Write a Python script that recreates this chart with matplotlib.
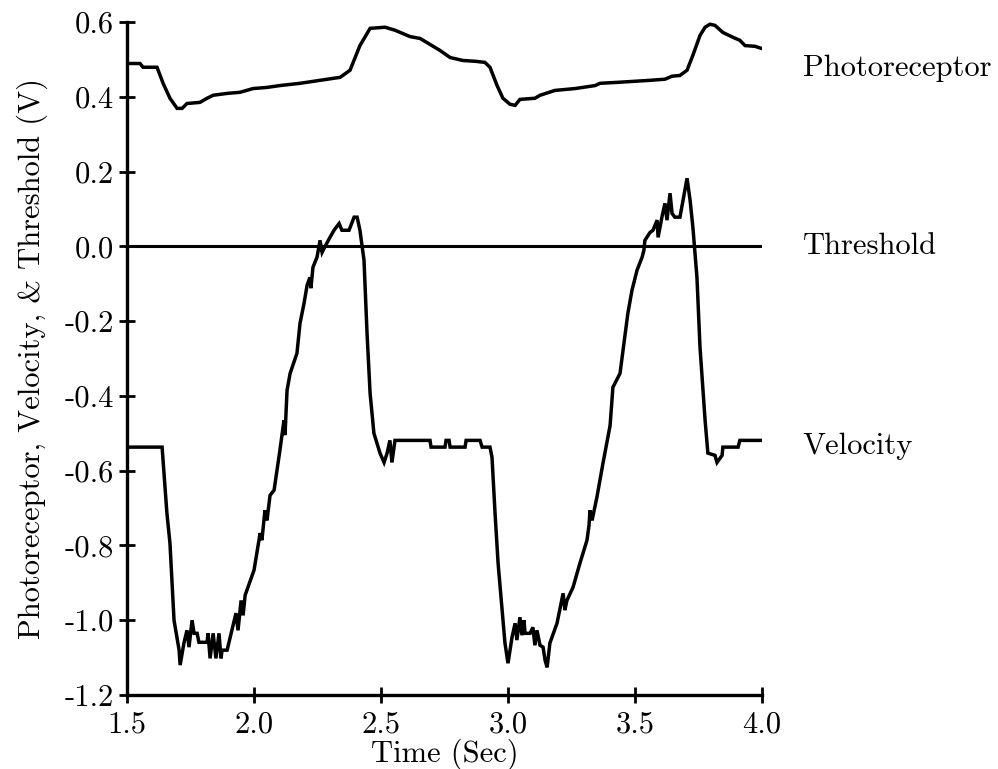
import numpy as np
import matplotlib
matplotlib.use("Agg")
import matplotlib.pyplot as plt

plt.rcParams['font.family'] = ['cmr10', 'DejaVu Serif']
plt.rcParams['axes.unicode_minus'] = False
plt.rcParams['mathtext.fontset'] = 'cm'

# photoreceptor output (V) vs time (s)
photo_t = [1.500, 1.551, 1.563, 1.618, 1.642, 1.669, 1.697, 1.717, 1.736, 1.787,
           1.815, 1.839, 1.894, 1.945, 1.996, 2.051, 2.102, 2.181, 2.260, 2.339,
           2.378, 2.417, 2.457, 2.516, 2.555, 2.614, 2.654, 2.732, 2.772, 2.823,
           2.870, 2.909, 2.929, 2.957, 2.980, 3.008, 3.028, 3.047, 3.106, 3.126,
           3.185, 3.264, 3.343, 3.362, 3.441, 3.559, 3.618, 3.646, 3.677, 3.705,
           3.728, 3.756, 3.776, 3.795, 3.815, 3.846, 3.886, 3.913, 3.933, 3.972,
           4.000]
photo_v = [0.489, 0.489, 0.479, 0.479, 0.436, 0.396, 0.369, 0.369, 0.382, 0.385,
           0.396, 0.404, 0.409, 0.412, 0.422, 0.425, 0.430, 0.436, 0.444, 0.452,
           0.471, 0.537, 0.583, 0.586, 0.578, 0.561, 0.556, 0.524, 0.505, 0.497,
           0.495, 0.492, 0.479, 0.430, 0.396, 0.380, 0.377, 0.393, 0.396, 0.404,
           0.417, 0.422, 0.430, 0.436, 0.439, 0.444, 0.447, 0.455, 0.457, 0.471,
           0.511, 0.564, 0.586, 0.594, 0.591, 0.572, 0.559, 0.551, 0.537, 0.535,
           0.529]

# velocity output (V) vs time (s)
vel_t = [1.500, 1.638, 1.657, 1.669, 1.685, 1.705, 1.709, 1.724, 1.736, 1.744,
         1.756, 1.764, 1.776, 1.783, 1.815, 1.819, 1.827, 1.839, 1.850, 1.862,
         1.870, 1.874, 1.894, 1.929, 1.937, 1.949, 1.957, 1.965, 2.000, 2.024,
         2.031, 2.043, 2.051, 2.063, 2.079, 2.102, 2.118, 2.122, 2.130, 2.142,
         2.169, 2.181, 2.197, 2.209, 2.220, 2.224, 2.232, 2.248, 2.260, 2.268,
         2.276, 2.299, 2.315, 2.335, 2.346, 2.374, 2.394, 2.406, 2.417, 2.433,
         2.445, 2.457, 2.472, 2.496, 2.512, 2.524, 2.535, 2.543, 2.555, 2.693,
         2.697, 2.752, 2.756, 2.768, 2.772, 2.831, 2.835, 2.890, 2.898, 2.929,
         2.937, 2.949, 2.961, 2.976, 2.988, 3.000, 3.016, 3.028, 3.035, 3.047,
         3.055, 3.063, 3.067, 3.087, 3.098, 3.106, 3.114, 3.126, 3.138, 3.146,
         3.154, 3.165, 3.193, 3.217, 3.224, 3.232, 3.256, 3.283, 3.311, 3.319,
         3.323, 3.331, 3.350, 3.374, 3.402, 3.413, 3.441, 3.453, 3.472, 3.488,
         3.508, 3.528, 3.535, 3.539, 3.559, 3.571, 3.587, 3.591, 3.606, 3.618,
         3.626, 3.638, 3.646, 3.657, 3.677, 3.705, 3.717, 3.728, 3.744, 3.756,
         3.776, 3.787, 3.815, 3.823, 3.843, 3.846, 3.906, 3.913, 4.000]
vel_v = [-0.537, -0.537, -0.714, -0.794, -1.000, -1.080, -1.120, -1.061, -1.027, -1.072,
         -1.000, -1.035, -1.035, -1.059, -1.059, -1.035, -1.102, -1.035, -1.102, -1.035,
         -1.102, -1.080, -1.080, -0.981, -1.027, -0.947, -0.987, -0.933, -0.866, -0.767,
         -0.786, -0.706, -0.733, -0.666, -0.652, -0.545, -0.465, -0.505, -0.385, -0.340,
         -0.286, -0.206, -0.152, -0.104, -0.083, -0.112, -0.056, -0.029, 0.016, -0.016,
         -0.005, 0.024, 0.043, 0.061, 0.043, 0.043, 0.078, 0.078, 0.043, -0.037,
         -0.233, -0.393, -0.500, -0.553, -0.578, -0.553, -0.519, -0.578, -0.519, -0.519,
         -0.537, -0.537, -0.519, -0.519, -0.537, -0.537, -0.519, -0.519, -0.537, -0.537,
         -0.564, -0.714, -0.848, -0.965, -1.061, -1.115, -1.045, -1.008, -1.053, -0.992,
         -1.040, -1.000, -1.035, -1.035, -1.019, -1.067, -1.027, -1.067, -1.072, -1.107,
         -1.126, -1.061, -1.008, -0.928, -0.973, -0.947, -0.912, -0.848, -0.786, -0.746,
         -0.706, -0.733, -0.671, -0.580, -0.479, -0.377, -0.340, -0.278, -0.179, -0.118,
         -0.064, -0.029, -0.011, 0.016, 0.037, 0.043, 0.070, 0.024, 0.078, 0.115,
         0.070, 0.142, 0.088, 0.078, 0.078, 0.182, 0.123, 0.051, -0.083, -0.270,
         -0.465, -0.553, -0.559, -0.578, -0.559, -0.537, -0.537, -0.519, -0.519]

threshold = 0.0

xticks = [1.5, 2.0, 2.5, 3.0, 3.5, 4.0]
xtick_labels = ['1.5', '2.0', '2.5', '3.0', '3.5', '4.0']
yticks = [-1.2, -1.0, -0.8, -0.6, -0.4, -0.2, 0.0, 0.2, 0.4, 0.6]
ytick_labels = ['-1.2', '-1.0', '-0.8', '-0.6', '-0.4', '-0.2', '0.0', '0.2', '0.4', '0.6']

fs = 22

fig = plt.figure(figsize=(9.98, 7.69), dpi=100)
ax = fig.add_axes([0.1273, 0.0962, 0.6362, 0.8752])

lw = 2.5
ax.plot(photo_t, photo_v, color='black', lw=lw, solid_joinstyle='miter')
ax.plot(vel_t, vel_v, color='black', lw=lw, solid_joinstyle='miter')
ax.plot([xticks[0], xticks[-1]], [threshold, threshold], color='black', lw=2.2)

ax.set_xlim(1.5, 4.0)
ax.set_ylim(-1.2, 0.6)
ax.set_xticks(xticks)
ax.set_xticklabels(xtick_labels)
ax.set_yticks(yticks)
ax.set_yticklabels(ytick_labels)

for side in ['top', 'right']:
    ax.spines[side].set_visible(False)
for side in ['left', 'bottom']:
    ax.spines[side].set_linewidth(2.4)

ax.tick_params(direction='inout', length=11, width=2.0, labelsize=fs, pad=4)
ax.tick_params(axis='x', pad=6)

ax.set_xlabel('Time (Sec)', fontsize=fs, labelpad=0)
ax.set_ylabel('Photoreceptor, Velocity, & Threshold (V)', fontsize=fs, labelpad=12)

# trace names to the right of the plot
tr = ax.get_yaxis_transform()
ax.text(1.064, photo_v[0] - 0.013, 'Photoreceptor', transform=tr,
        fontsize=fs, va='center', ha='left')
ax.text(1.064, threshold, 'Threshold', transform=tr,
        fontsize=fs, va='center', ha='left')
ax.text(1.064, vel_v[0] + 0.002, 'Velocity', transform=tr,
        fontsize=fs, va='center', ha='left')

fig.savefig('out.png', dpi=100)
